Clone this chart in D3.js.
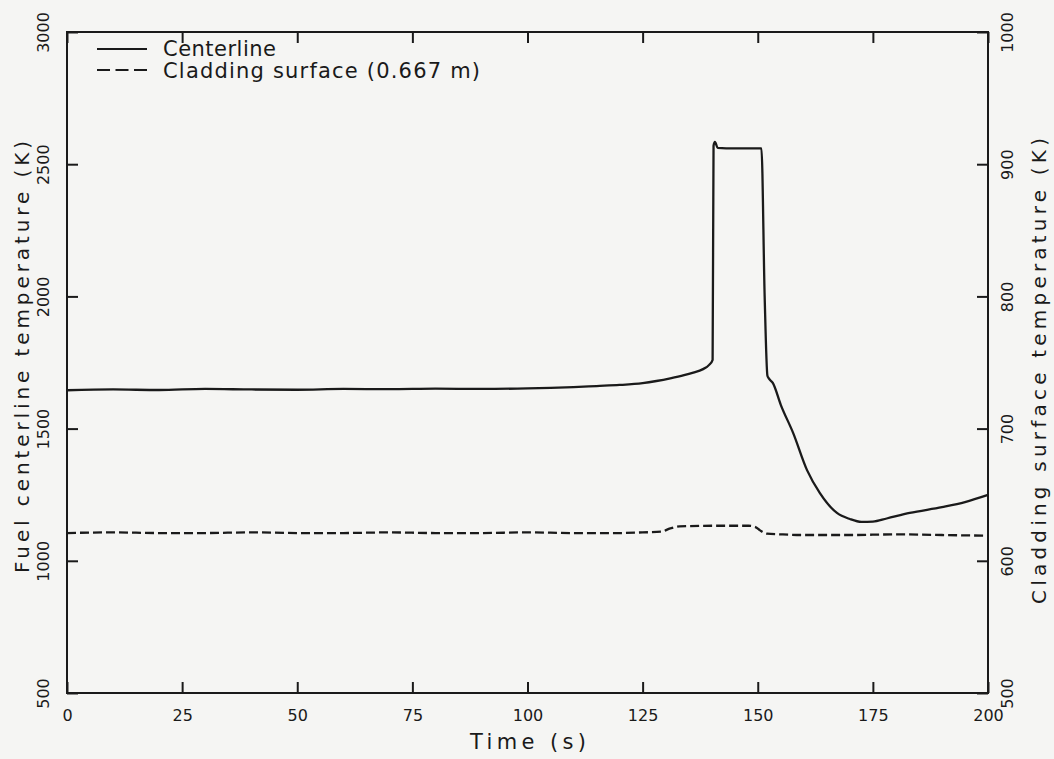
<!DOCTYPE html>
<html>
<head>
<meta charset="utf-8">
<script src="https://cdn.jsdelivr.net/npm/d3@7"></script>
<style>
  html, body { margin: 0; padding: 0; background: #f5f5f3; }
  svg { display: block; }
  text { font-family: "DejaVu Sans", sans-serif; fill: #1a1a1a; }
</style>
</head>
<body>
<svg id="chart" width="1054" height="759"></svg>
<script>
// Fuel centerline temperature (K), left axis
const centerTime = [0, 10, 20, 30, 40, 50, 60, 70, 80, 90, 100, 105, 110, 115, 120, 125, 128, 131, 134, 136, 138, 139.5, 140.2, 140.4, 140.7, 141.3, 145, 150.8, 151.5, 152.1, 152.4, 153.3, 155, 157.7, 160.7, 163.5, 167.2, 170, 172.5, 175, 178, 183, 190, 195, 200];
const centerTemp = [1645, 1648, 1646, 1650, 1648, 1647, 1650, 1649, 1651, 1650, 1652, 1654, 1657, 1661, 1665, 1672, 1680, 1690, 1702, 1712, 1724, 1742, 1760, 2570, 2584, 2562, 2560, 2560, 2000, 1700, 1690, 1672, 1590, 1483, 1343, 1256, 1181, 1158, 1147, 1148, 1160, 1181, 1203, 1222, 1249];

// Cladding surface temperature at 0.667 m (K), right axis
const cladTime = [0, 10, 20, 30, 40, 50, 60, 70, 80, 90, 100, 110, 120, 125, 129, 131, 133, 140, 148, 149.5, 150.5, 152, 155, 160, 170, 180, 190, 200];
const cladTemp = [621, 621.5, 621, 621, 621.5, 621, 621, 621.5, 621, 621, 621.5, 621, 621, 621.5, 622, 624.5, 626, 626.5, 626.5, 625.5, 623, 620.5, 620, 619.5, 619.5, 620, 619.5, 619];

const timeTicks = [0, 25, 50, 75, 100, 125, 150, 175, 200];
const leftTicks = [500, 1000, 1500, 2000, 2500, 3000];
const rightTicks = [500, 600, 700, 800, 900, 1000];

const legendLabels = ["Centerline", "Cladding surface (0.667 m)"];
const xTitle = "Time (s)";
const yLeftTitle = "Fuel centerline temperature (K)";
const yRightTitle = "Cladding surface temperature (K)";

const ink = "#1a1a1a";
const tickLen = 11;
const svg = d3.select("#chart");

const x = d3.scaleLinear().domain([0, 200]).range([67, 988]);
const yL = d3.scaleLinear().domain([500, 3000]).range([693, 32]);
const yR = d3.scaleLinear().domain([500, 1000]).range([693, 32]);

// frame
svg.append("rect")
  .attr("x", x(0)).attr("y", yL(3000))
  .attr("width", x(200) - x(0)).attr("height", yL(500) - yL(3000))
  .attr("fill", "none").attr("stroke", ink).attr("stroke-width", 2);

function styleAxis(g) {
  g.select(".domain").remove();
  g.selectAll(".tick line")
    .attr("stroke", ink)
    .attr("stroke-width", 2);
  g.selectAll(".tick text").attr("fill", ink).attr("font-size", 16)
    .attr("font-family", "DejaVu Sans, sans-serif");
}

// Ticks point into the plot, so each edge uses the axis generator facing inward
// and its labels are moved back outside the frame.

// bottom edge: ticks up, labels below
svg.append("g")
  .attr("transform", `translate(0,${yL(500)})`)
  .call(d3.axisTop(x).tickValues(timeTicks).tickSize(tickLen).tickFormat(d3.format("d")))
  .call(styleAxis)
  .call(g => g.selectAll(".tick text")
    .attr("y", 17).attr("dy", "0.71em"));

// top edge: ticks down, no labels
svg.append("g")
  .attr("transform", `translate(0,${yL(3000)})`)
  .call(d3.axisBottom(x).tickValues(timeTicks).tickSize(tickLen).tickFormat(""))
  .call(styleAxis);

// left edge: ticks right, rotated labels outside
svg.append("g")
  .attr("transform", `translate(${x(0)},0)`)
  .call(d3.axisRight(yL).tickValues(leftTicks).tickSize(tickLen).tickFormat(d3.format("d")))
  .call(styleAxis)
  .call(g => g.selectAll(".tick text")
    .attr("transform", "rotate(-90)")
    .attr("x", 0).attr("y", -18).attr("dy", 0)
    .attr("text-anchor", "middle"));

// right edge: ticks left, rotated labels outside
svg.append("g")
  .attr("transform", `translate(${x(200)},0)`)
  .call(d3.axisLeft(yR).tickValues(rightTicks).tickSize(tickLen).tickFormat(d3.format("d")))
  .call(styleAxis)
  .call(g => g.selectAll(".tick text")
    .attr("transform", "rotate(-90)")
    .attr("x", 0).attr("y", 25).attr("dy", 0)
    .attr("text-anchor", "middle"));

// axis titles
svg.append("text")
  .attr("x", 528).attr("y", 749)
  .attr("text-anchor", "middle").attr("font-size", 21)
  .attr("textLength", 116).attr("lengthAdjust", "spacing")
  .text(xTitle);

svg.append("text")
  .attr("transform", "translate(29,357) rotate(-90)")
  .attr("text-anchor", "middle").attr("font-size", 20)
  .attr("textLength", 432).attr("lengthAdjust", "spacing")
  .text(yLeftTitle);

svg.append("text")
  .attr("transform", "translate(1046,371) rotate(-90)")
  .attr("text-anchor", "middle").attr("font-size", 20)
  .attr("textLength", 466).attr("lengthAdjust", "spacing")
  .text(yRightTitle);

// data lines
const centerLine = d3.line()
  .x((d, i) => x(centerTime[i]))
  .y(d => yL(d))
  .curve(d3.curveMonotoneX);
svg.append("path")
  .datum(centerTemp)
  .attr("d", centerLine)
  .attr("fill", "none").attr("stroke", ink).attr("stroke-width", 2.3)
  .attr("stroke-linejoin", "round");

const cladLine = d3.line()
  .x((d, i) => x(cladTime[i]))
  .y(d => yR(d))
  .curve(d3.curveMonotoneX);
svg.append("path")
  .datum(cladTemp)
  .attr("d", cladLine)
  .attr("fill", "none").attr("stroke", ink).attr("stroke-width", 2.3)
  .attr("stroke-dasharray", "9,4");

// legend
const legend = svg.append("g");
legend.append("line")
  .attr("x1", 97).attr("x2", 147).attr("y1", 49).attr("y2", 49)
  .attr("stroke", ink).attr("stroke-width", 2);
legend.append("line")
  .attr("x1", 97).attr("x2", 147).attr("y1", 70).attr("y2", 70)
  .attr("stroke", ink).attr("stroke-width", 2).attr("stroke-dasharray", "13,5.5");
legend.append("text")
  .attr("x", 163).attr("y", 56).attr("font-size", 21)
  .attr("textLength", 113).attr("lengthAdjust", "spacing")
  .text(legendLabels[0]);
legend.append("text")
  .attr("x", 163).attr("y", 78).attr("font-size", 21)
  .attr("textLength", 317).attr("lengthAdjust", "spacing")
  .text(legendLabels[1]);
</script>
</body>
</html>
